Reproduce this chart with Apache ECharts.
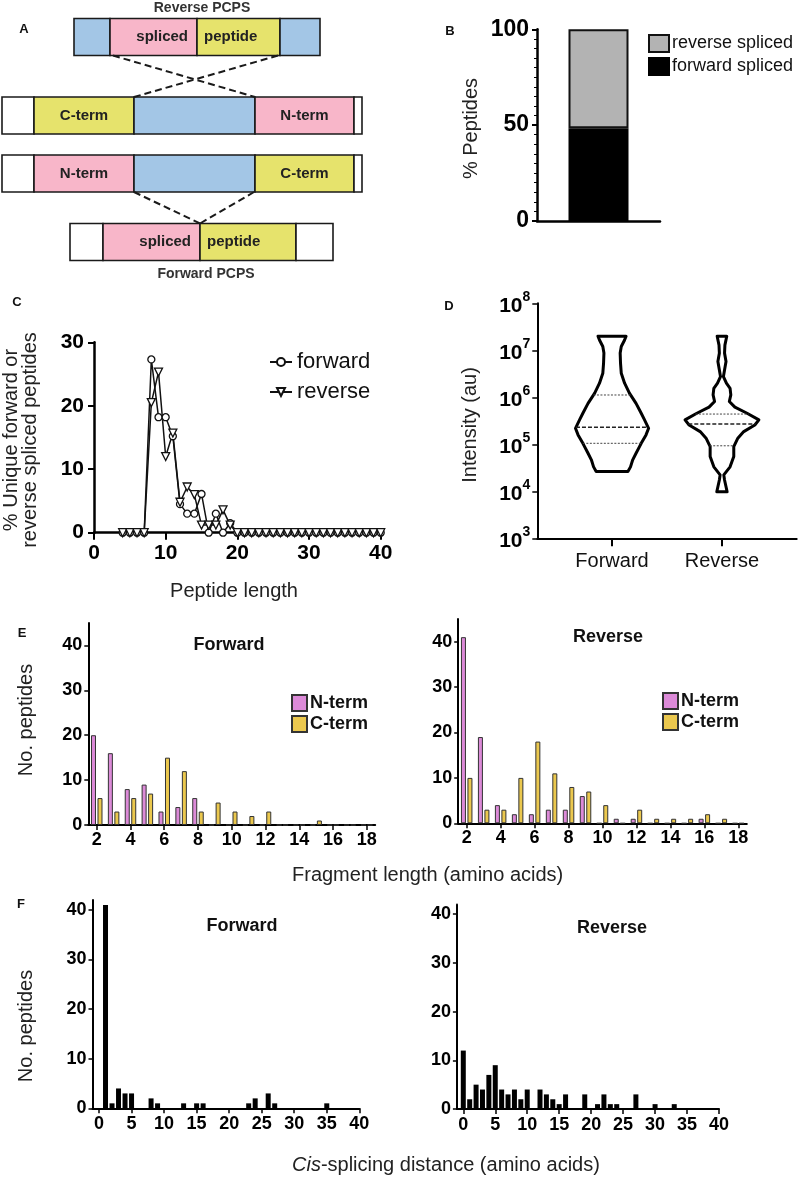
<!DOCTYPE html>
<html>
<head>
<meta charset="utf-8">
<script src="https://cdn.jsdelivr.net/npm/echarts@6/dist/echarts.min.js"></script>
<style>
html, body { margin: 0; padding: 0; background: #fff; }
#chart { width: 798px; height: 1180px; }
</style>
</head>
<body>
<div id="chart"></div>
<script>
// ---- A: splicing schematic (sequence positions along each strip)
const schemaRows = [37, 115.5, 173.5, 242]
const schemaSegments = [
  [0, 74, 110, 'blue'], [0, 110, 197, 'pink', 'spliced', 'right'], [0, 197, 280, 'yellow', 'peptide', 'left'], [0, 280, 320, 'blue'],
  [1, 2, 34, 'white'], [1, 34, 134, 'yellow', 'C-term'], [1, 134, 255, 'blue'], [1, 255, 354, 'pink', 'N-term'], [1, 354, 362, 'white'],
  [2, 2, 34, 'white'], [2, 34, 134, 'pink', 'N-term'], [2, 134, 255, 'blue'], [2, 255, 354, 'yellow', 'C-term'], [2, 354, 362, 'white'],
  [3, 70, 103, 'white'], [3, 103, 200, 'pink', 'spliced', 'right'], [3, 200, 296, 'yellow', 'peptide', 'left'], [3, 296, 333, 'white']
]
const schemaLinks = [[113, 0, 255, 1], [278, 0, 134, 1], [134, 2, 200, 3], [254, 2, 200, 3]]

// ---- B: share of spliced peptides
const splicedForward = 48.4
const splicedReverse = 51.6

// ---- C: length distribution
const cLengths = [4, 5, 6, 7, 8, 9, 10, 11, 12, 13, 14, 15, 16, 17, 18, 19, 20, 21, 22, 23, 24, 25, 26, 27, 28, 29, 30, 31, 32, 33, 34, 35, 36, 37, 38, 39, 40]
const cForward = [0, 0, 0, 0, 27.3, 18.2, 18.2, 15.2, 4.5, 3.0, 3.0, 6.1, 0, 3.0, 0, 1.5, 0, 0, 0, 0, 0, 0, 0, 0, 0, 0, 0, 0, 0, 0, 0, 0, 0, 0, 0, 0, 0]
const cReverse = [0, 0, 0, 0, 20.5, 25.3, 12.0, 15.7, 4.8, 7.2, 6.0, 1.2, 1.2, 1.2, 3.6, 1.2, 0, 0, 0, 0, 0, 0, 0, 0, 0, 0, 0, 0, 0, 0, 0, 0, 0, 0, 0, 0, 0]

// ---- D: intensity violins (log10 level, relative density)
const dGroups = ['Forward', 'Reverse']
const violinLogForward = [7.30, 7.22, 7.08, 6.94, 6.72, 6.51, 6.30, 6.09, 5.87, 5.66, 5.52, 5.34, 5.20, 5.02, 4.81, 4.67, 4.52, 4.42]
const violinDensityForward = [0.38, 0.34, 0.25, 0.22, 0.23, 0.25, 0.34, 0.47, 0.65, 0.79, 0.88, 0.99, 0.92, 0.79, 0.65, 0.56, 0.50, 0.43]
const violinLogReverse = [7.30, 7.11, 6.94, 6.76, 6.58, 6.44, 6.30, 6.19, 6.05, 5.91, 5.79, 5.66, 5.52, 5.41, 5.27, 5.13, 4.95, 4.74, 4.52, 4.35, 4.24, 3.99]
const violinDensityReverse = [0.13, 0.08, 0.07, 0.11, 0.07, 0.04, 0.12, 0.22, 0.24, 0.20, 0.35, 0.68, 1.0, 0.89, 0.59, 0.43, 0.32, 0.32, 0.22, 0.05, 0.07, 0.14]
const quartilesForward = [1.05e5, 2.3e5, 1.12e6]
const quartilesReverse = [9.3e4, 2.7e5, 4.4e5]

// ---- E: fragment lengths
const eLengths = ['2', '3', '4', '5', '6', '7', '8', '9', '10', '11', '12', '13', '14', '15', '16', '17', '18']
const eForwardN = [20, 16, 8, 9, 3, 4, 6, 0, 0, 0, 0, 0, 0, 0, 0, 0, 0]
const eForwardC = [6, 3, 6, 7, 15, 12, 3, 5, 3, 2, 3, 0, 0, 1, 0, 0, 0]
const eReverseN = [41, 19, 4, 2, 2, 3, 3, 6, 0, 1, 1, 0, 0, 0, 1, 0, 0]
const eReverseC = [10, 3, 3, 10, 18, 11, 8, 7, 4, 0, 3, 1, 1, 1, 2, 1, 0]
const eCountTicks = [0, 10, 20, 30, 40]

// ---- F: cis-splicing distance
const fForwardDist = [1, 2, 3, 4, 5, 8, 9, 13, 15, 16, 23, 24, 26, 27, 35]
const fForwardCount = [41, 1, 4, 3, 3, 2, 1, 1, 1, 1, 1, 2, 3, 1, 1]
const fReverseDist = [0, 1, 2, 3, 4, 5, 6, 7, 8, 9, 10, 12, 13, 14, 15, 16, 19, 21, 22, 23, 24, 27, 30, 33]
const fReverseCount = [12, 2, 5, 4, 7, 9, 4, 3, 4, 2, 4, 4, 3, 2, 1, 3, 3, 1, 3, 1, 1, 3, 1, 1]
const fDistTicks = [0, 5, 10, 15, 20, 25, 30, 35, 40]
const fCountTicks = [0, 10, 20, 30, 40]

const FONT = '"Liberation Sans", Arial, Helvetica, sans-serif'
const SCHEMA_ROW_H = 37
const VIOLIN_HALF = 0.336
const schemaFill = { blue: '#a3c6e6', pink: '#f8b6c9', yellow: '#e6e36c', white: '#ffffff' }
const nTermColor = '#dc8ad8'
const cTermColor = '#ebc84e'

const chart = echarts.init(document.getElementById('chart'))

const axisLine = width => ({ show: true, onZero: false, lineStyle: { color: '#000', width } })
const tickStyle = (length, width) => ({ show: true, length, lineStyle: { color: '#000', width } })
const boldLabel = (fontSize, margin) => ({ color: '#000', fontSize, fontWeight: 'bold', fontFamily: FONT, margin })

const text = (str, x, y, size, opts = {}) => ({
  type: 'text',
  x, y,
  rotation: opts.rotate ? Math.PI / 2 : 0,
  style: {
    text: str,
    fontSize: size,
    fontWeight: opts.bold ? 'bold' : 'normal',
    fontFamily: FONT,
    fill: opts.color || '#111',
    align: opts.align || 'center',
    verticalAlign: 'middle',
    lineHeight: opts.lineHeight,
    rich: opts.rich
  }
})

const interpWidth = (levels, density, value) => {
  const l = Math.log10(value)
  for (let i = 0; i < levels.length - 1; i++) {
    const a = levels[i], b = levels[i + 1]
    if ((l <= a && l >= b) || (l >= a && l <= b)) {
      const t = (l - a) / (b - a)
      return density[i] + t * (density[i + 1] - density[i])
    }
  }
  return 0
}

const violins = [
  { levels: violinLogForward, density: violinDensityForward, quartiles: quartilesForward },
  { levels: violinLogReverse, density: violinDensityReverse, quartiles: quartilesReverse }
]

chart.setOption({
  animation: false,
  backgroundColor: '#fff',
  textStyle: { fontFamily: FONT },
  grid: [
    { left: 0, top: 0, width: 365, height: 285 },
    { left: 537, top: 29.3, width: 123, height: 191.7 },
    { left: 94, top: 342.3, width: 286.7, height: 190.4 },
    { left: 537.3, top: 303.3, width: 259.4, height: 235 },
    { left: 88.3, top: 623, width: 286.9, height: 202 },
    { left: 458.2, top: 619, width: 288.6, height: 204.3 },
    { left: 92.5, top: 900, width: 266.8, height: 208.3 },
    { left: 456.9, top: 904.5, width: 262.1, height: 204.5 }
  ],
  xAxis: [
    { gridIndex: 0, type: 'value', min: 0, max: 365, show: false },
    { gridIndex: 1, type: 'category', data: ['peptides'], axisLine: axisLine(2.5), axisTick: { show: false }, axisLabel: { show: false } },
    { gridIndex: 2, type: 'value', min: 0, max: 40, interval: 10, axisLine: axisLine(2.5), axisTick: tickStyle(7, 2), axisLabel: boldLabel(21, 10), splitLine: { show: false } },
    {
      gridIndex: 3, type: 'value', min: 0.32, max: 2.68, axisLine: axisLine(2),
      axisTick: { ...tickStyle(8, 2), customValues: [1, 2] },
      axisLabel: { color: '#111', fontSize: 20, fontFamily: FONT, margin: 13, customValues: [1, 2], formatter: v => dGroups[Math.round(v) - 1] },
      splitLine: { show: false }
    },
    { gridIndex: 4, type: 'category', data: eLengths, axisLine: axisLine(2), axisTick: { ...tickStyle(5, 1.5), alignWithLabel: true, interval: 1 }, axisLabel: { ...boldLabel(18, 6), interval: 1 } },
    { gridIndex: 5, type: 'category', data: eLengths, axisLine: axisLine(2), axisTick: { ...tickStyle(5, 1.5), alignWithLabel: true, interval: 1 }, axisLabel: { ...boldLabel(18, 6), interval: 1 } },
    { gridIndex: 6, type: 'value', min: -1, max: 40, axisLine: axisLine(2), axisTick: { ...tickStyle(5, 1.5), customValues: fDistTicks }, axisLabel: { ...boldLabel(18, 7), customValues: fDistTicks }, splitLine: { show: false } },
    { gridIndex: 7, type: 'value', min: -1, max: 40, axisLine: axisLine(2), axisTick: { ...tickStyle(5, 1.5), customValues: fDistTicks }, axisLabel: { ...boldLabel(18, 7), customValues: fDistTicks }, splitLine: { show: false } }
  ],
  yAxis: [
    { gridIndex: 0, type: 'value', min: 0, max: 285, inverse: true, show: false },
    {
      gridIndex: 1, type: 'value', min: 0, max: 100, interval: 50, axisLine: axisLine(2.5), axisTick: tickStyle(5, 2),
      minorTick: { show: true, splitNumber: 10, length: 3, lineStyle: { color: '#000', width: 1 } },
      axisLabel: boldLabel(23, 8), splitLine: { show: false }
    },
    { gridIndex: 2, type: 'value', min: 0, max: 30, interval: 10, axisLine: axisLine(2.5), axisTick: tickStyle(6, 2), axisLabel: boldLabel(21, 10), splitLine: { show: false } },
    {
      gridIndex: 3, type: 'log', logBase: 10, min: 1e3, max: 1e8, axisLine: axisLine(2), axisTick: tickStyle(5, 1.5),
      axisLabel: {
        margin: 7,
        formatter: v => '{b|10}{s|' + Math.round(Math.log10(v)) + '}',
        rich: {
          b: { fontSize: 21, fontWeight: 'bold', fontFamily: FONT, color: '#000', lineHeight: 26, verticalAlign: 'bottom' },
          s: { fontSize: 14, fontWeight: 'bold', fontFamily: FONT, color: '#000', lineHeight: 14, verticalAlign: 'top' }
        }
      },
      splitLine: { show: false }
    },
    { gridIndex: 4, type: 'value', min: 0, max: 45, axisLine: axisLine(2), axisTick: { ...tickStyle(4, 1.5), customValues: eCountTicks }, axisLabel: { ...boldLabel(18, 6), customValues: eCountTicks }, splitLine: { show: false } },
    { gridIndex: 5, type: 'value', min: 0, max: 45, axisLine: axisLine(2), axisTick: { ...tickStyle(4, 1.5), customValues: eCountTicks }, axisLabel: { ...boldLabel(18, 6), customValues: eCountTicks }, splitLine: { show: false } },
    { gridIndex: 6, type: 'value', min: 0, max: 42, axisLine: axisLine(2), axisTick: { ...tickStyle(4, 1.5), customValues: fCountTicks }, axisLabel: { ...boldLabel(18, 6), customValues: fCountTicks }, splitLine: { show: false } },
    { gridIndex: 7, type: 'value', min: 0, max: 42, axisLine: axisLine(2), axisTick: { ...tickStyle(4, 1.5), customValues: fCountTicks }, axisLabel: { ...boldLabel(18, 6), customValues: fCountTicks }, splitLine: { show: false } }
  ],
  legend: [
    {
      data: ['reverse spliced', 'forward spliced'], orient: 'vertical', left: 643, top: 29, icon: 'rect',
      itemWidth: 20, itemHeight: 17, itemGap: 4, selectedMode: false,
      textStyle: { fontSize: 18, fontFamily: FONT, color: '#111', padding: [0, 0, 0, -2] }
    },
    {
      data: ['forward', 'reverse'], orient: 'vertical', left: 264, top: 346,
      itemWidth: 22, itemHeight: 10, itemGap: 8, selectedMode: false,
      textStyle: { fontSize: 22, fontFamily: FONT, color: '#111' }
    },
    {
      data: ['N-term', 'C-term'], orient: 'vertical', left: 286, top: 689, icon: 'rect',
      itemWidth: 15, itemHeight: 16, itemGap: 3, selectedMode: false,
      textStyle: { fontSize: 18, fontWeight: 'bold', fontFamily: FONT, color: '#111', padding: [0, 0, 0, -2] }
    },
    {
      data: ['N-term', 'C-term'], orient: 'vertical', left: 657, top: 687, icon: 'rect',
      itemWidth: 15, itemHeight: 16, itemGap: 3, selectedMode: false,
      textStyle: { fontSize: 18, fontWeight: 'bold', fontFamily: FONT, color: '#111', padding: [0, 0, 0, -2] }
    }
  ],
  graphic: [
    text('A', 24, 29.5, 13, { bold: true }),
    text('B', 450, 31, 13, { bold: true }),
    text('C', 17, 302, 13, { bold: true }),
    text('D', 449, 306.5, 13, { bold: true }),
    text('E', 22, 633, 13, { bold: true }),
    text('F', 21, 904, 13, { bold: true }),
    text('Reverse PCPS', 202, 8, 14, { bold: true, color: '#333' }),
    text('Forward PCPS', 206, 274, 14, { bold: true, color: '#333' }),
    text('% Peptides', 471.5, 128.5, 20, { rotate: true, color: '#222' }),
    text('% Unique forward or\nreverse spliced peptides', 21, 440, 20, { rotate: true, lineHeight: 19, color: '#222' }),
    text('Peptide length', 234, 591.5, 20, { color: '#222' }),
    text('Intensity (au)', 470, 425, 20, { rotate: true, color: '#222' }),
    text('Forward', 229, 645, 18, { bold: true }),
    text('Reverse', 608, 637.5, 18, { bold: true }),
    text('No. peptides', 26, 720, 20, { rotate: true, color: '#222' }),
    text('Fragment length (amino acids)', 292, 875, 20, { align: 'left', color: '#222' }),
    text('Forward', 242, 926, 18, { bold: true }),
    text('Reverse', 612, 928, 18, { bold: true }),
    text('No. peptides', 26, 1026, 20, { rotate: true, color: '#222' }),
    text('{i|Cis}-splicing distance (amino acids)', 292, 1165, 20, {
      align: 'left', color: '#222',
      rich: { i: { fontStyle: 'italic', fontSize: 20, fontFamily: FONT, fill: '#222' } }
    })
  ],
  series: [
    {
      type: 'custom', name: 'schema', xAxisIndex: 0, yAxisIndex: 0, silent: true,
      data: schemaSegments.map(s => [s[1], schemaRows[s[0]]]),
      renderItem: (params, api) => {
        const seg = schemaSegments[params.dataIndex]
        const cy = schemaRows[seg[0]]
        const p0 = api.coord([seg[1], cy - SCHEMA_ROW_H / 2])
        const p1 = api.coord([seg[2], cy + SCHEMA_ROW_H / 2])
        const children = [{
          type: 'rect',
          shape: { x: p0[0], y: p0[1], width: p1[0] - p0[0], height: p1[1] - p0[1] },
          style: { fill: schemaFill[seg[3]], stroke: '#1a1a1a', lineWidth: 1.6 }
        }]
        if (seg[4]) {
          const align = seg[5] || 'center'
          const tx = align === 'right' ? p1[0] - 9 : align === 'left' ? p0[0] + 7 : (p0[0] + p1[0]) / 2
          children.push({
            type: 'text', x: tx, y: (p0[1] + p1[1]) / 2,
            style: { text: seg[4], align, verticalAlign: 'middle', fontSize: 15, fontWeight: 'bold', fontFamily: FONT, fill: '#222' }
          })
        }
        return { type: 'group', children }
      }
    },
    {
      type: 'custom', name: 'schemaLinks', xAxisIndex: 0, yAxisIndex: 0, silent: true,
      data: schemaLinks.map(l => [l[0], schemaRows[l[1]]]),
      renderItem: (params, api) => {
        const l = schemaLinks[params.dataIndex]
        const a = api.coord([l[0], schemaRows[l[1]] + SCHEMA_ROW_H / 2])
        const b = api.coord([l[2], schemaRows[l[3]] - SCHEMA_ROW_H / 2])
        return {
          type: 'line',
          shape: { x1: a[0], y1: a[1], x2: b[0], y2: b[1] },
          style: { stroke: '#1a1a1a', lineWidth: 2, lineDash: [7, 4] }
        }
      }
    },
    {
      type: 'bar', name: 'forward spliced', xAxisIndex: 1, yAxisIndex: 1, stack: 'pct', barWidth: 60,
      data: [splicedForward], itemStyle: { color: '#000', borderColor: '#000', borderWidth: 2 }
    },
    {
      type: 'bar', name: 'reverse spliced', xAxisIndex: 1, yAxisIndex: 1, stack: 'pct', barWidth: 60,
      data: [splicedReverse], itemStyle: { color: '#b3b3b3', borderColor: '#111', borderWidth: 2 }
    },
    {
      type: 'line', name: 'forward', xAxisIndex: 2, yAxisIndex: 2,
      data: cLengths.map((l, i) => [l, cForward[i]]),
      symbol: 'circle', symbolSize: 7, showAllSymbol: true,
      lineStyle: { color: '#111', width: 1.5 },
      itemStyle: { color: '#fff', borderColor: '#111', borderWidth: 1.3 }
    },
    {
      type: 'line', name: 'reverse', xAxisIndex: 2, yAxisIndex: 2,
      data: cLengths.map((l, i) => [l, cReverse[i]]),
      symbol: 'triangle', symbolRotate: 180, symbolSize: 8, showAllSymbol: true,
      lineStyle: { color: '#111', width: 1.5 },
      itemStyle: { color: '#fff', borderColor: '#111', borderWidth: 1.3 }
    },
    {
      type: 'custom', name: 'violins', xAxisIndex: 3, yAxisIndex: 3, silent: true,
      data: dGroups.map((g, i) => [i + 1, 1e5]),
      renderItem: (params, api) => {
        const v = violins[params.dataIndex]
        const cx = api.value(0)
        const right = v.levels.map((l, i) => api.coord([cx + v.density[i] * VIOLIN_HALF, Math.pow(10, l)]))
        const left = v.levels.map((l, i) => api.coord([cx - v.density[i] * VIOLIN_HALF, Math.pow(10, l)])).reverse()
        const children = [{
          type: 'polygon',
          shape: { points: right.concat(left) },
          style: { fill: '#fff', stroke: '#000', lineWidth: 3, lineJoin: 'round' }
        }]
        v.quartiles.forEach((q, qi) => {
          const w = interpWidth(v.levels, v.density, q) * VIOLIN_HALF
          const a = api.coord([cx - w, q])
          const b = api.coord([cx + w, q])
          children.push({
            type: 'line',
            shape: { x1: a[0], y1: a[1], x2: b[0], y2: b[1] },
            style: qi === 1
              ? { stroke: '#222', lineWidth: 1.6, lineDash: [4, 2] }
              : { stroke: '#444', lineWidth: 1, lineDash: [2, 1.5] }
          })
        })
        return { type: 'group', children }
      }
    },
    {
      type: 'bar', name: 'N-term', xAxisIndex: 4, yAxisIndex: 4, barWidth: 5, barGap: '30%',
      data: eForwardN, itemStyle: { color: nTermColor, borderColor: '#333', borderWidth: 1 }
    },
    {
      type: 'bar', name: 'C-term', xAxisIndex: 4, yAxisIndex: 4, barWidth: 5, barGap: '30%',
      data: eForwardC, itemStyle: { color: cTermColor, borderColor: '#333', borderWidth: 1 }
    },
    {
      type: 'bar', name: 'N-term', xAxisIndex: 5, yAxisIndex: 5, barWidth: 5, barGap: '30%',
      data: eReverseN, itemStyle: { color: nTermColor, borderColor: '#333', borderWidth: 1 }
    },
    {
      type: 'bar', name: 'C-term', xAxisIndex: 5, yAxisIndex: 5, barWidth: 5, barGap: '30%',
      data: eReverseC, itemStyle: { color: cTermColor, borderColor: '#333', borderWidth: 1 }
    },
    {
      type: 'bar', name: 'distance forward', xAxisIndex: 6, yAxisIndex: 6, barWidth: 5,
      data: fForwardDist.map((d, i) => [d, fForwardCount[i]]), itemStyle: { color: '#000' }
    },
    {
      type: 'bar', name: 'distance reverse', xAxisIndex: 7, yAxisIndex: 7, barWidth: 5,
      data: fReverseDist.map((d, i) => [d, fReverseCount[i]]), itemStyle: { color: '#000' }
    }
  ]
})

window.addEventListener('resize', () => chart.resize())
</script>
</body>
</html>
